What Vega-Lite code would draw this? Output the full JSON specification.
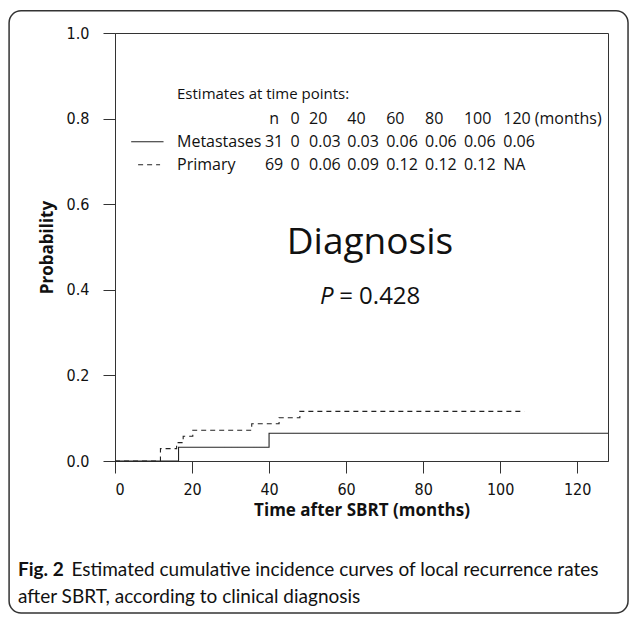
{
  "$schema": "https://vega.github.io/schema/vega-lite/v6.json",
  "width": 493,
  "height": 428,
  "autosize": "none",
  "padding": {"left": 115, "top": 33, "right": 21, "bottom": 156},
  "background": "white",
  "config": {
    "view": {"stroke": "#333", "strokeWidth": 1},
    "axis": {"grid": false, "domainColor": "#333", "tickColor": "#333", "labelColor": "#111", "titleColor": "#111", "tickSize": 12, "domainWidth": 1, "tickWidth": 1},
    "text": {"font": "Open Sans", "color": "#111"}
  },
  "data": {
    "values": [
      {"group": "Metastases", "time": 0, "prob": 0},
      {"group": "Metastases", "time": 16.5, "prob": 0.032},
      {"group": "Metastases", "time": 40, "prob": 0.065},
      {"group": "Metastases", "time": 128, "prob": 0.065},
      {"group": "Primary", "time": 0, "prob": 0},
      {"group": "Primary", "time": 11.8, "prob": 0.029},
      {"group": "Primary", "time": 16, "prob": 0.043},
      {"group": "Primary", "time": 17.7, "prob": 0.058},
      {"group": "Primary", "time": 20.2, "prob": 0.072},
      {"group": "Primary", "time": 35.5, "prob": 0.087},
      {"group": "Primary", "time": 42.6, "prob": 0.101},
      {"group": "Primary", "time": 48, "prob": 0.116},
      {"group": "Primary", "time": 106.3, "prob": 0.116}
    ]
  },
  "layer": [
    {
      "data": {"values": [{}]},
      "mark": {"type": "rect", "filled": false, "stroke": "#333", "strokeWidth": 1.5, "cornerRadius": 12, "clip": false},
      "encoding": {
        "x": {"datum": -27.5, "type": "quantitative", "scale": {"domain": [0, 128], "nice": false, "zero": false}},
        "x2": {"datum": 133.2},
        "y": {"datum": 1.052, "type": "quantitative", "scale": {"domain": [0, 1], "nice": false}},
        "y2": {"datum": -0.355}
      }
    },
    {
      "mark": {"type": "line", "interpolate": "step-after", "color": "#222", "strokeWidth": 1.1},
      "encoding": {
        "x": {"field": "time", "type": "quantitative", "scale": {"domain": [0, 128], "nice": false, "zero": false},
              "axis": {"values": [0, 20, 40, 60, 80, 100, 120], "title": "Time after SBRT (months)", "titleFont": "Open Sans", "titleFontWeight": "bold", "titleFontSize": 17, "titlePadding": 5,
                       "labelFont": "Liberation Sans Narrow, DejaVu Sans Condensed, Liberation Sans", "labelFontSize": 16, "labelPadding": 8}},
        "y": {"field": "prob", "type": "quantitative", "scale": {"domain": [0, 1], "nice": false},
              "axis": {"values": [0, 0.2, 0.4, 0.6, 0.8, 1], "format": ".1f", "title": "Probability", "titleFont": "Open Sans", "titleFontWeight": "bold", "titleFontSize": 17, "titlePadding": 10,
                       "labelFont": "Liberation Sans Narrow, DejaVu Sans Condensed, Liberation Sans", "labelFontSize": 16, "labelPadding": 14}},
        "strokeDash": {"field": "group", "type": "nominal", "scale": {"domain": ["Metastases", "Primary"], "range": [[1, 0], [5, 4]]}, "legend": null}
      }
    },
    {
      "data": {"values": [{}]},
      "mark": {"type": "rule", "color": "#222", "strokeWidth": 1.1},
      "encoding": {
        "x": {"datum": 4.2, "type": "quantitative"},
        "x2": {"datum": 12.6},
        "y": {"datum": 0.746, "type": "quantitative"}
      }
    },
    {
      "data": {"values": [{}]},
      "mark": {"type": "rule", "color": "#222", "strokeWidth": 1.1, "strokeDash": [5, 4]},
      "encoding": {
        "x": {"datum": 6.0, "type": "quantitative"},
        "x2": {"datum": 11.7},
        "y": {"datum": 0.692, "type": "quantitative"}
      }
    },
    {
      "data": {"values": [{}]},
      "mark": {"type": "text", "align": "left", "baseline": "middle", "fontSize": 15, "text": "Estimates at time points:"},
      "encoding": {"x": {"datum": 16.1, "type": "quantitative"}, "y": {"datum": 0.857, "type": "quantitative"}}
    },
    {
      "data": {"values": [{}]},
      "mark": {"type": "text", "align": "left", "baseline": "middle", "fontSize": 16, "lineHeight": 23.3, "text": ["Metastases", "Primary"]},
      "encoding": {"x": {"datum": 16.1, "type": "quantitative"}, "y": {"datum": 0.746, "type": "quantitative"}}
    },
    {
      "data": {"values": [{}]},
      "mark": {"type": "text", "align": "center", "baseline": "middle", "fontSize": 16, "lineHeight": 23.3, "text": ["n", "31", "69"]},
      "encoding": {"x": {"datum": 41.3, "type": "quantitative"}, "y": {"datum": 0.8, "type": "quantitative"}}
    },
    {
      "data": {"values": [{}]},
      "mark": {"type": "text", "align": "center", "baseline": "middle", "fontSize": 16, "lineHeight": 23.3, "text": ["0", "0", "0"]},
      "encoding": {"x": {"datum": 46.75, "type": "quantitative"}, "y": {"datum": 0.8, "type": "quantitative"}}
    },
    {
      "data": {"values": [{}]},
      "mark": {"type": "text", "align": "left", "baseline": "middle", "fontSize": 16, "lineHeight": 23.3, "text": ["20", "0.03", "0.06"]},
      "encoding": {"x": {"datum": 50.4, "type": "quantitative"}, "y": {"datum": 0.8, "type": "quantitative"}}
    },
    {
      "data": {"values": [{}]},
      "mark": {"type": "text", "align": "left", "baseline": "middle", "fontSize": 16, "lineHeight": 23.3, "text": ["40", "0.03", "0.09"]},
      "encoding": {"x": {"datum": 60.3, "type": "quantitative"}, "y": {"datum": 0.8, "type": "quantitative"}}
    },
    {
      "data": {"values": [{}]},
      "mark": {"type": "text", "align": "left", "baseline": "middle", "fontSize": 16, "lineHeight": 23.3, "text": ["60", "0.06", "0.12"]},
      "encoding": {"x": {"datum": 70.4, "type": "quantitative"}, "y": {"datum": 0.8, "type": "quantitative"}}
    },
    {
      "data": {"values": [{}]},
      "mark": {"type": "text", "align": "left", "baseline": "middle", "fontSize": 16, "lineHeight": 23.3, "text": ["80", "0.06", "0.12"]},
      "encoding": {"x": {"datum": 80.5, "type": "quantitative"}, "y": {"datum": 0.8, "type": "quantitative"}}
    },
    {
      "data": {"values": [{}]},
      "mark": {"type": "text", "align": "left", "baseline": "middle", "fontSize": 16, "lineHeight": 23.3, "text": ["100", "0.06", "0.12"]},
      "encoding": {"x": {"datum": 90.6, "type": "quantitative"}, "y": {"datum": 0.8, "type": "quantitative"}}
    },
    {
      "data": {"values": [{}]},
      "mark": {"type": "text", "align": "left", "baseline": "middle", "fontSize": 16, "lineHeight": 23.3, "text": ["120 (months)", "0.06", "NA"]},
      "encoding": {"x": {"datum": 100.8, "type": "quantitative"}, "y": {"datum": 0.8, "type": "quantitative"}}
    },
    {
      "data": {"values": [{}]},
      "mark": {"type": "text", "align": "center", "baseline": "middle", "fontSize": 37, "text": "Diagnosis"},
      "encoding": {"x": {"datum": 66.2, "type": "quantitative"}, "y": {"datum": 0.509, "type": "quantitative"}}
    },
    {
      "data": {"values": [{}]},
      "mark": {"type": "text", "align": "left", "baseline": "middle", "fontSize": 24, "fontStyle": "italic", "text": "P"},
      "encoding": {"x": {"datum": 53.2, "type": "quantitative"}, "y": {"datum": 0.383, "type": "quantitative"}}
    },
    {
      "data": {"values": [{}]},
      "mark": {"type": "text", "align": "left", "baseline": "middle", "fontSize": 24, "text": "= 0.428"},
      "encoding": {"x": {"datum": 58.2, "type": "quantitative"}, "y": {"datum": 0.383, "type": "quantitative"}}
    },
    {
      "data": {"values": [{}]},
      "mark": {"type": "text", "align": "left", "baseline": "middle", "font": "Lato", "fontSize": 19, "fontWeight": "bold", "text": "Fig. 2"},
      "encoding": {"x": {"datum": -25.2, "type": "quantitative"}, "y": {"datum": -0.2547, "type": "quantitative"}}
    },
    {
      "data": {"values": [{}]},
      "mark": {"type": "text", "align": "left", "baseline": "middle", "font": "Lato", "fontSize": 19, "text": "Estimated cumulative incidence curves of local recurrence rates"},
      "encoding": {"x": {"datum": -11.3, "type": "quantitative"}, "y": {"datum": -0.2547, "type": "quantitative"}}
    },
    {
      "data": {"values": [{}]},
      "mark": {"type": "text", "align": "left", "baseline": "middle", "font": "Lato", "fontSize": 19, "text": "after SBRT, according to clinical diagnosis"},
      "encoding": {"x": {"datum": -25.2, "type": "quantitative"}, "y": {"datum": -0.318, "type": "quantitative"}}
    }
  ]
}
